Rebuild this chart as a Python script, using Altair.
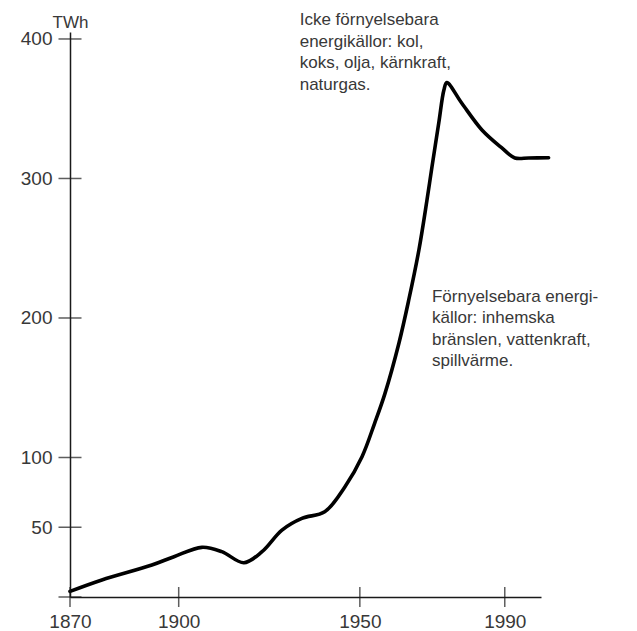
import altair as alt
import pandas as pd

# Curve (year, TWh)
years = [1870, 1878.8, 1892.6, 1898.7, 1906.4, 1911.9, 1918.0, 1923.0, 1928.5,
         1934.0, 1940.3, 1945.9, 1950.6, 1954.1, 1956.9, 1960.8, 1963.5, 1966.3,
         1968.5, 1969.9, 1971.8, 1973.2, 1974.0, 1978.1, 1983.7, 1989.2, 1992.8,
         1996.6, 2002.1]
twh = [4, 12.2, 22.9, 28.9, 35.6, 32.5, 24.6, 32.5, 48.0,
       56.4, 61.1, 79.1, 100.6, 124.7, 145.6, 182.1, 212.9, 248.7,
       284.0, 308.2, 340.1, 363.4, 368.7, 354.1, 334.8, 321.9, 314.7,
       314.7, 314.9]

x_ticks = [1870, 1900, 1950, 1990]
y_ticks = [50, 100, 200, 300, 400]

notes = [
    "Icke förnyelsebara\nenergikällor: kol,\nkoks, olja, kärnkraft,\nnaturgas.",
    "Förnyelsebara energi-\nkällor: inhemska\nbränslen, vattenkraft,\nspillvärme.",
]
note_years = [1933.4, 1969.9]
note_values = [419, 221]

x_domain = [1870, 2000]
y_domain = [0, 405]

FONT = "Liberation Sans"
INK = "#1a1a1a"
GREY = "#383838"

line_df = pd.DataFrame({"year": years, "twh": twh})
ytick_df = pd.DataFrame({"year": [x_domain[0]] * (len(y_ticks) + 1), "twh": [0] + y_ticks})
xtick_df = pd.DataFrame({"year": x_ticks, "twh": [0] * len(x_ticks)})
note_df = pd.DataFrame({"year": note_years, "twh": note_values, "text": notes})

x_scale = alt.Scale(domain=x_domain, nice=False, zero=False)
y_scale = alt.Scale(domain=y_domain, nice=False)

x_axis = alt.Axis(
    values=x_ticks, format="d", title=None, ticks=False, tickSize=0,
    grid=False, domainColor=INK, domainWidth=1.5,
    labelFont=FONT, labelFontSize=19, labelColor=GREY,
    labelPadding=15, labelFlush=False)
y_axis = alt.Axis(
    values=y_ticks, title="TWh", titleAngle=0, titleX=0, titleY=-5,
    titleAlign="center", titleBaseline="alphabetic", titleFont=FONT,
    titleFontSize=17, titleFontWeight="normal", titleColor=GREY,
    ticks=False, tickSize=0, grid=False, domainColor=INK, domainWidth=1.5,
    labelFont=FONT, labelFontSize=19, labelColor=GREY,
    labelPadding=18, labelFlush=False)

X = alt.X("year:Q", scale=x_scale, axis=x_axis)
Y = alt.Y("twh:Q", scale=y_scale, axis=y_axis)

line = alt.Chart(line_df).mark_line(
    color="#000000", strokeWidth=3.6, interpolate="catmull-rom", strokeCap="round"
).encode(x=X, y=Y)

yt = alt.Chart(ytick_df).mark_tick(
    orient="horizontal", size=23, thickness=1.5, color=INK
).encode(x=X, y=Y)

xt = alt.Chart(xtick_df).mark_tick(
    orient="vertical", size=20, thickness=1.5, color=INK
).encode(x=X, y=Y)

txt = alt.Chart(note_df).mark_text(
    align="left", baseline="top", font=FONT, fontSize=17, lineHeight=21.5,
    color=GREY, lineBreak="\n"
).encode(x=X, y=Y, text="text:N")

chart = alt.layer(line, yt, xt, txt).properties(
    width=471, height=565,
    autosize=alt.AutoSizeParams(type="none"),
    padding={"left": 62, "top": 24, "right": 88, "bottom": 34},
).configure(background="white").configure_view(stroke=None)

chart.save("out.html", embed_options={"renderer": "svg", "actions": False})
